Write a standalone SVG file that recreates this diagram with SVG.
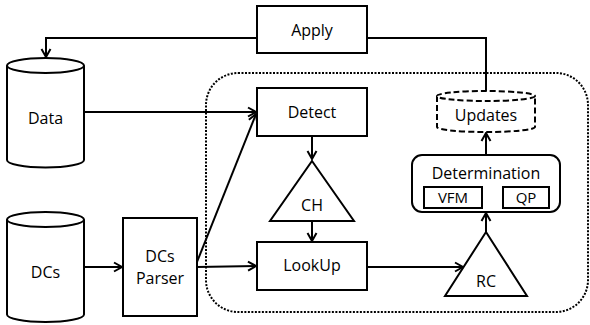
<svg xmlns="http://www.w3.org/2000/svg" width="590" height="325" viewBox="0 0 590 325">
<defs>
<marker id="arr" markerUnits="userSpaceOnUse" markerWidth="12" markerHeight="12" refX="9" refY="5" orient="auto" overflow="visible">
<path d="M1,0.5 L9,5 L1,9.5" fill="none" stroke="#000" stroke-width="2"/>
</marker>
<style>
.s{fill:#fff;stroke:#000;stroke-width:2}
.n{fill:none;stroke:#000;stroke-width:2}
.c{fill:none;stroke:#000;stroke-width:2;marker-end:url(#arr)}
text{font-family:"Open Sans","Liberation Sans",sans-serif;font-size:16px;text-anchor:middle;fill:#000}
.sm{font-size:15px}
</style>
</defs>
<rect x="206" y="73" width="382" height="239" rx="32" fill="none" stroke="#000" stroke-width="2" stroke-dasharray="2 1.5"/>
<g id="connectors">
<path class="c" d="M257,38 L46,38 L46,57"/>
<path class="n" d="M367,38 L486,38 L486,91"/>
<path class="c" d="M84,112 L256,112"/>
<path class="c" d="M197,262 L256,114"/>
<path class="c" d="M84,267 L122,267"/>
<path class="c" d="M197,267 L256,266"/>
<path class="c" d="M312,136 L312,159"/>
<path class="c" d="M312,221 L312,241"/>
<path class="c" d="M367,267 L463,267"/>
<path class="c" d="M486,232 L486,213"/>
<path class="c" d="M486,155 L486,133"/>
</g>
<g id="apply">
<rect class="s" x="257" y="6" width="110" height="47"/>
<text x="312" y="36">Apply</text>
</g>
<g id="data">
<path class="s" d="M7,65.5 L7,160 A38.5,7.5 0 0 0 84,160 L84,65.5"/>
<ellipse class="s" cx="45.5" cy="65.5" rx="38.5" ry="7.5"/>
<text x="45.5" y="124">Data</text>
</g>
<g id="dcs">
<path class="s" d="M7,219.5 L7,314.5 A38.5,7.5 0 0 0 84,314.5 L84,219.5"/>
<ellipse class="s" cx="45.5" cy="219.5" rx="38.5" ry="7.5"/>
<text x="45.5" y="278">DCs</text>
</g>
<g id="parser">
<rect class="s" x="123" y="218" width="74" height="98"/>
<text x="160" y="262">DCs</text>
<text x="160" y="284">Parser</text>
</g>
<g id="detect">
<rect class="s" x="257" y="88" width="110" height="48"/>
<text x="312" y="118">Detect</text>
</g>
<g id="ch">
<polygon class="s" points="312,161 354,221 270,221"/>
<text x="312" y="211">CH</text>
</g>
<g id="lookup">
<rect class="s" x="257" y="242" width="110" height="48"/>
<text x="312" y="271">LookUp</text>
</g>
<g id="rc">
<polygon class="s" points="486,232 527,296 445,296"/>
<text x="486" y="287">RC</text>
</g>
<g id="updates">
<path class="s" stroke-dasharray="6 3" d="M437,96 L437,127 A49,5 0 0 0 535,127 L535,96"/>
<ellipse class="s" stroke-dasharray="6 3" cx="486" cy="96" rx="49" ry="5"/>
<text x="486" y="121">Updates</text>
</g>
<g id="determination">
<rect class="s" x="412" y="155" width="148" height="57" rx="10"/>
<text x="486" y="179">Determination</text>
<rect class="s" x="424" y="187" width="58" height="21"/>
<text class="sm" x="453" y="203">VFM</text>
<rect class="s" x="503" y="187" width="46" height="21"/>
<text class="sm" x="526" y="203">QP</text>
</g>
</svg>
